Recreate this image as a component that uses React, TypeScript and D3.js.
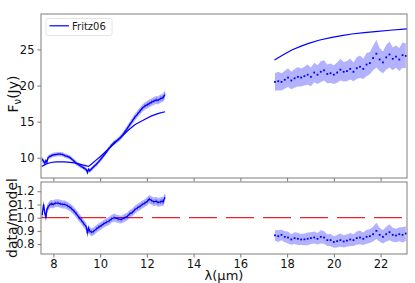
import React, { useEffect, useRef } from 'react';
import * as d3 from 'd3';

// spectrum short wavelength part (data)
const leftWave = [7.52, 7.58, 7.63, 7.68, 7.72, 7.77, 7.85, 7.92, 7.99, 8.08,
    8.2, 8.3, 8.4, 8.49, 8.6, 8.7, 8.77, 8.88, 8.98, 9.1,
    9.2, 9.3, 9.41, 9.46, 9.5, 9.55, 9.63, 9.72, 9.84, 9.95,
    10.05, 10.16, 10.27, 10.38, 10.48, 10.6, 10.77, 10.9, 11.06, 11.17,
    11.27, 11.38, 11.48, 11.6, 11.7, 11.8, 11.91, 12.02, 12.1, 12.2,
    12.3, 12.4, 12.48, 12.58, 12.65, 12.7, 12.77];
const leftFlux = [9.8, 9.5, 9.25, 9.6, 9.4, 10.0, 10.2, 10.3, 10.4, 10.45,
    10.5, 10.5, 10.45, 10.3, 10.2, 10.05, 9.85, 9.55, 9.25, 9.0,
    8.8, 8.6, 8.35, 7.95, 8.4, 8.2, 8.45, 8.75, 9.1, 9.5,
    9.9, 10.35, 10.8, 11.3, 11.7, 12.1, 12.5, 12.9, 13.6, 14.1,
    14.6, 15.1, 15.6, 16.05, 16.45, 16.85, 17.15, 17.35, 17.5, 17.7,
    17.85, 18.0, 17.95, 18.2, 18.25, 18.35, 18.75];
const leftFluxErr = [0.35, 0.35, 0.3, 0.3, 0.3, 0.3, 0.3, 0.3, 0.3, 0.3,
    0.3, 0.3, 0.3, 0.3, 0.3, 0.3, 0.3, 0.3, 0.3, 0.3,
    0.3, 0.3, 0.3, 0.35, 0.3, 0.3, 0.3, 0.3, 0.3, 0.3,
    0.3, 0.3, 0.3, 0.3, 0.3, 0.32, 0.34, 0.36, 0.38, 0.4,
    0.42, 0.44, 0.46, 0.48, 0.5, 0.5, 0.52, 0.54, 0.55, 0.55,
    0.55, 0.56, 0.56, 0.57, 0.58, 0.58, 0.6];
const leftRatio = [1.02, 1.10, 1.04, 1.0, 1.06, 1.08, 1.10, 1.105, 1.10, 1.11,
    1.11, 1.105, 1.10, 1.10, 1.09, 1.08, 1.07, 1.05, 1.03, 1.0,
    0.98, 0.955, 0.93, 0.88, 0.92, 0.90, 0.89, 0.895, 0.915, 0.93,
    0.94, 0.955, 0.965, 0.975, 0.99, 1.0, 0.99, 0.985, 1.0, 1.01,
    1.03, 1.04, 1.06, 1.075, 1.085, 1.10, 1.11, 1.125, 1.14, 1.13,
    1.12, 1.125, 1.115, 1.12, 1.125, 1.12, 1.155];
const leftRatioErr = [0.03, 0.03, 0.03, 0.03, 0.03, 0.03, 0.03, 0.03, 0.03, 0.03,
    0.03, 0.03, 0.03, 0.03, 0.03, 0.03, 0.03, 0.03, 0.03, 0.03,
    0.03, 0.03, 0.03, 0.035, 0.03, 0.03, 0.03, 0.03, 0.03, 0.03,
    0.03, 0.03, 0.03, 0.03, 0.03, 0.03, 0.03, 0.03, 0.03, 0.03,
    0.03, 0.03, 0.03, 0.03, 0.03, 0.03, 0.03, 0.032, 0.032, 0.032,
    0.033, 0.033, 0.033, 0.034, 0.034, 0.035, 0.035];

// long wavelength part (data)
const rightWave = [17.48, 17.62, 17.76, 17.9, 18.04, 18.18, 18.32, 18.46, 18.6, 18.74,
    18.88, 19.02, 19.16, 19.3, 19.44, 19.58, 19.72, 19.86, 20.0, 20.14,
    20.28, 20.42, 20.56, 20.7, 20.84, 20.98, 21.12, 21.26, 21.4, 21.54,
    21.68, 21.82, 21.96, 22.1, 22.24, 22.38, 22.52, 22.66, 22.8, 22.94, 23.08];
const rightFlux = [20.5, 20.6, 20.5, 20.8, 21.1, 20.7, 21.0, 21.2, 21.1, 21.3,
    21.5, 21.2, 21.8, 21.5, 21.9, 22.1, 21.6, 21.7, 21.5, 21.8,
    22.2, 21.9, 22.0, 22.3, 21.9, 22.4, 22.6, 22.3, 22.9, 23.1,
    23.8, 24.4, 23.6, 23.2, 23.9, 24.3, 23.7, 24.0, 23.6, 24.2, 24.1];
const rightFluxErr = [1.2, 1.3, 1.2, 1.25, 1.3, 1.2, 1.3, 1.35, 1.25, 1.3,
    1.4, 1.3, 1.35, 1.3, 1.45, 1.4, 1.3, 1.35, 1.3, 1.4,
    1.5, 1.35, 1.4, 1.45, 1.3, 1.5, 1.55, 1.4, 1.6, 1.55,
    1.7, 1.9, 1.6, 1.5, 1.7, 1.8, 1.6, 1.55, 1.6, 1.75, 1.7];
const rightRatio = [0.866, 0.86, 0.87, 0.855, 0.85, 0.835, 0.845, 0.84, 0.835, 0.836,
    0.84, 0.845, 0.85, 0.84, 0.855, 0.85, 0.83, 0.83, 0.816, 0.822,
    0.83, 0.82, 0.826, 0.835, 0.83, 0.845, 0.85, 0.84, 0.855, 0.86,
    0.875, 0.9, 0.87, 0.855, 0.875, 0.89, 0.87, 0.865, 0.875, 0.87, 0.88];
const rightRatioErr = [0.04, 0.045, 0.04, 0.042, 0.045, 0.04, 0.045, 0.046, 0.042, 0.045,
    0.048, 0.044, 0.046, 0.044, 0.05, 0.048, 0.044, 0.046, 0.044, 0.047,
    0.05, 0.046, 0.047, 0.049, 0.044, 0.05, 0.052, 0.047, 0.053, 0.052,
    0.056, 0.062, 0.053, 0.05, 0.056, 0.06, 0.053, 0.052, 0.053, 0.058, 0.056];

// Fritz06 model
const modelLeftWave = [7.5, 7.7, 7.9, 8.1, 8.5, 8.9, 9.2, 9.5, 9.62, 9.8,
    10.0, 10.3, 10.6, 10.9, 11.2, 11.5, 11.9, 12.2, 12.5, 12.78];
const modelLeftFlux = [8.8, 9.15, 9.35, 9.42, 9.42, 9.3, 9.05, 8.8, 9.1, 9.6,
    10.15, 11.05, 11.95, 12.85, 13.8, 14.6, 15.3, 15.8, 16.15, 16.37];
const modelRightWave = [17.46, 17.8, 18.2, 18.6, 18.92, 19.4, 19.92, 20.4, 20.77, 21.3, 21.77, 22.4, 23.13];
const modelRightFlux = [23.53, 24.2, 24.92, 25.45, 25.84, 26.3, 26.67, 26.95, 27.13, 27.32, 27.45, 27.65, 27.85];

const xTicks = [8, 10, 12, 14, 16, 18, 20, 22];
const fluxTicks = [10, 15, 20, 25];
const ratioTicks = [0.8, 0.9, 1.0, 1.1, 1.2];
const unityLine = [7.47, 23.0];

const BLUE = '#0000ff';
const FONT = 'DejaVu Sans';

export default function App() {
    const ref = useRef<SVGSVGElement>(null);

    useEffect(() => {
        const svg = d3.select(ref.current);
        svg.selectAll('*').remove();

        const left = 41, right = 407;
        const top1 = 14, bottom1 = 178, top2 = 182, bottom2 = 254;

        const x = d3.scaleLinear().domain([7.47, 23.13]).range([left, right]);
        const y1 = d3.scaleLinear().domain([7.2, 29.9]).range([bottom1, top1]);
        const y2 = d3.scaleLinear().domain([0.725, 1.27]).range([bottom2, top2]);

        const clip1 = svg.append('clipPath').attr('id', 'c1');
        clip1.append('rect').attr('x', left).attr('y', top1).attr('width', right - left).attr('height', bottom1 - top1);
        const clip2 = svg.append('clipPath').attr('id', 'c2');
        clip2.append('rect').attr('x', left).attr('y', top2).attr('width', right - left).attr('height', bottom2 - top2);

        const g1 = svg.append('g').attr('clip-path', 'url(#c1)');
        const g2 = svg.append('g').attr('clip-path', 'url(#c2)');

        const idx = (arr: number[]) => arr.map((_, i) => i);

        const band = (vals: number[], errs: number[], wave: number[], y: d3.ScaleLinear<number, number>) =>
            d3.area<number>()
                .x(i => x(wave[i]))
                .y0(i => y(vals[i] - errs[i]))
                .y1(i => y(vals[i] + errs[i]));

        const line = (vals: number[], wave: number[], y: d3.ScaleLinear<number, number>) =>
            d3.line<number>().x(i => x(wave[i])).y(i => y(vals[i]));

        // panel 1 : flux
        [[leftFlux, leftFluxErr, leftWave], [rightFlux, rightFluxErr, rightWave]].forEach(([v, e, w]) => {
            g1.append('path')
                .attr('d', band(v, e, w, y1)(idx(v)))
                .attr('fill', BLUE).attr('fill-opacity', 0.3);
        });
        g1.append('path').attr('d', line(modelLeftFlux, modelLeftWave, y1)(idx(modelLeftFlux)))
            .attr('fill', 'none').attr('stroke', BLUE).attr('stroke-width', 1.2);
        g1.append('path').attr('d', line(modelRightFlux, modelRightWave, y1)(idx(modelRightFlux)))
            .attr('fill', 'none').attr('stroke', BLUE).attr('stroke-width', 1.2);

        // panel 2 : ratio
        g2.append('path')
            .attr('d', d3.line<number>().x(d => x(d)).y(() => y2(1))(unityLine))
            .attr('fill', 'none').attr('stroke', '#e8262a').attr('stroke-width', 1.3)
            .attr('stroke-dasharray', '28,9');
        [[leftRatio, leftRatioErr, leftWave], [rightRatio, rightRatioErr, rightWave]].forEach(([v, e, w]) => {
            g2.append('path')
                .attr('d', band(v, e, w, y2)(idx(v)))
                .attr('fill', BLUE).attr('fill-opacity', 0.3);
        });

        // data marks
        const drawData = (g: any, vals: number[], errs: number[], y: d3.ScaleLinear<number, number>) => {
            g.append('path').attr('d', line(vals, leftWave, y)(idx(vals)))
                .attr('fill', 'none').attr('stroke', BLUE).attr('stroke-width', 1.3);
            leftWave.forEach((w, i) => {
                g.append('line')
                    .attr('x1', x(w)).attr('x2', x(w))
                    .attr('y1', y(vals[i] - errs[i] * 0.5)).attr('y2', y(vals[i] + errs[i] * 0.5))
                    .attr('stroke', BLUE).attr('stroke-width', 0.5).attr('stroke-opacity', 0.8);
            });
        };
        drawData(g1, leftFlux, leftFluxErr, y1);
        drawData(g2, leftRatio, leftRatioErr, y2);

        const drawDots = (g: any, vals: number[], y: d3.ScaleLinear<number, number>) => {
            rightWave.forEach((w, i) => {
                g.append('rect')
                    .attr('x', x(w) - 0.9).attr('y', y(vals[i]) - 0.9)
                    .attr('width', 1.8).attr('height', 1.8)
                    .attr('fill', BLUE);
            });
        };
        drawDots(g1, rightFlux, y1);
        drawDots(g2, rightRatio, y2);

        // axes
        const styleAxis = (sel: any) => {
            sel.select('.domain').remove();
            sel.selectAll('.tick line').attr('stroke', '#555').attr('stroke-width', 0.8);
            sel.selectAll('.tick text').attr('font-family', FONT).attr('font-size', 11.5).attr('fill', '#111');
        };

        svg.append('g').attr('transform', `translate(0,${bottom1})`)
            .call(d3.axisBottom(x).tickValues(xTicks).tickSize(3.5).tickFormat(() => ''))
            .call(styleAxis);
        svg.append('g').attr('transform', `translate(0,${bottom2})`)
            .call(d3.axisBottom(x).tickValues(xTicks).tickSize(3.5).tickPadding(2.5).tickFormat(d3.format('d')))
            .call(styleAxis);
        svg.append('g').attr('transform', `translate(${left},0)`)
            .call(d3.axisLeft(y1).tickValues(fluxTicks).tickSize(3.5).tickPadding(3).tickFormat(d3.format('d')))
            .call(styleAxis);
        svg.append('g').attr('transform', `translate(${left},0)`)
            .call(d3.axisLeft(y2).tickValues(ratioTicks).tickSize(3.5).tickPadding(3).tickFormat(d3.format('.1f')))
            .call(styleAxis);

        // frames
        [[top1, bottom1], [top2, bottom2]].forEach(([t, b]) => {
            svg.append('rect')
                .attr('x', left).attr('y', t).attr('width', right - left).attr('height', b - t)
                .attr('fill', 'none').attr('stroke', '#7f7f7f').attr('stroke-width', 1);
        });

        // labels
        const yl = svg.append('text')
            .attr('transform', `translate(17.5,${(top1 + bottom1) / 2 - 2}) rotate(-90)`)
            .attr('text-anchor', 'middle')
            .attr('font-family', FONT).attr('font-size', 14).attr('fill', '#111');
        yl.append('tspan').text('F');
        yl.append('tspan').attr('font-size', 10).attr('dy', 3).text('ν');
        yl.append('tspan').attr('dy', -3).text('(Jy)');

        svg.append('text')
            .attr('transform', `translate(17,${(top2 + bottom2) / 2}) rotate(-90)`)
            .attr('text-anchor', 'middle')
            .attr('font-family', FONT).attr('font-size', 14).attr('fill', '#111')
            .text('data/model');

        svg.append('text')
            .attr('x', (left + right) / 2).attr('y', 280)
            .attr('text-anchor', 'middle')
            .attr('font-family', FONT).attr('font-size', 13).attr('fill', '#111')
            .text('λ(µm)');

        // legend
        const lg = svg.append('g');
        lg.append('rect').attr('x', 46).attr('y', 18.5).attr('width', 66).attr('height', 17).attr('rx', 2)
            .attr('fill', 'white').attr('fill-opacity', 0.8).attr('stroke', '#ddd').attr('stroke-width', 0.8);
        lg.append('line').attr('x1', 49.5).attr('x2', 69).attr('y1', 25.8).attr('y2', 25.8)
            .attr('stroke', BLUE).attr('stroke-width', 1.2);
        lg.append('text').attr('x', 72).attr('y', 29.5)
            .attr('font-family', FONT).attr('font-size', 10).attr('fill', '#222')
            .text('Fritz06');
    }, []);

    return (
        <svg ref={ref} width={415} height={283}
            style={{ position: 'absolute', left: 0, top: 0, background: 'white' }} />
    );
}
